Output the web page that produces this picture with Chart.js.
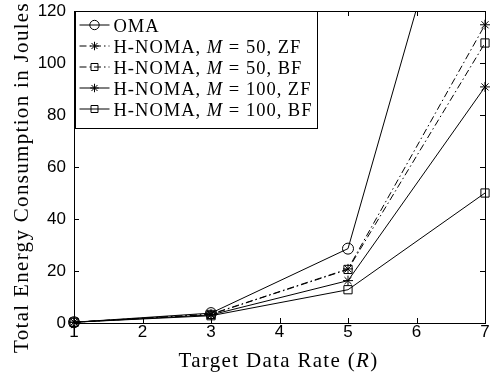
<!DOCTYPE html>
<html><head><meta charset="utf-8">
<script src="https://cdn.jsdelivr.net/npm/chart.js@4"></script>
<style>html,body{margin:0;padding:0;background:#fff}#wrap{width:493px;height:381px;position:relative}</style>
</head><body><div id="wrap"><canvas id="c" width="493" height="381"></canvas></div>
<script>
// ---- data ----
const rates = [1, 3, 5, 7];
const oma = [0.3, 3.8, 28.6, 213];
const noma50zf = [0.3, 3.4, 20.8, 114.7];
const noma50bf = [0.3, 3.3, 20.6, 107.7];
const noma100zf = [0.3, 3.1, 16.3, 90.8];
const noma100bf = [0.3, 2.8, 12.8, 50.0];
const xTicks = [1, 2, 3, 4, 5, 6, 7];
const yTicks = [0, 20, 40, 60, 80, 100, 120];
const legendLabels = [
  [["OMA", false]],
  [["H-NOMA, ", false], ["M", true], [" = 50, ZF", false]],
  [["H-NOMA, ", false], ["M", true], [" = 50, BF", false]],
  [["H-NOMA, ", false], ["M", true], [" = 100, ZF", false]],
  [["H-NOMA, ", false], ["M", true], [" = 100, BF", false]]
];
const xTitle = [["Target Data Rate (", false], ["R", true], [")", false]];
const yTitle = [["Total Energy Consumption in Joules", false]];

const SERIF = '"Liberation Serif", "DejaVu Serif", serif';
const SANS = '"Liberation Sans", Arial, sans-serif';
const dashDot = [7, 3, 1.5, 3];

function mk(label, values, style, dash, r) {
  return {
    label, data: rates.map((x, i) => ({x, y: values[i]})),
    borderColor: '#000', backgroundColor: 'rgba(0,0,0,0)', borderWidth: 1,
    borderDash: dash, pointStyle: style, pointRadius: r, pointHoverRadius: r,
    pointBorderColor: '#000', pointBackgroundColor: 'rgba(0,0,0,0)', pointBorderWidth: 1,
    tension: 0, clip: {left: 12, right: 12, top: 0, bottom: 12}
  };
}
const datasets = [
  mk('OMA', oma, 'circle', [], 5.5),
  mk('H-NOMA, M = 50, ZF', noma50zf, 'star', dashDot, 5),
  mk('H-NOMA, M = 50, BF', noma50bf, 'rect', dashDot, 5.8),
  mk('H-NOMA, M = 100, ZF', noma100zf, 'star', [], 5),
  mk('H-NOMA, M = 100, BF', noma100bf, 'rect', [], 5.8)
];

function segFont(it, size) { return (it ? 'italic ' : '') + size + 'px ' + SERIF; }
function segWidth(ctx, segs, size) {
  let w = 0, n = 0;
  ctx.letterSpacing = '0px';
  segs.forEach(([t, it]) => { ctx.font = segFont(it, size); w += ctx.measureText(t).width; n += t.length; });
  return {w, n};
}
function drawSegs(ctx, segs, x, y, size, ls, align) {
  ctx.letterSpacing = Math.max(0, ls) + 'px';
  let total = 0;
  segs.forEach(([t, it]) => { ctx.font = segFont(it, size); total += ctx.measureText(t).width; });
  let tx = align === 'center' ? x - total / 2 : x;
  ctx.textAlign = 'left';
  segs.forEach(([t, it]) => {
    ctx.font = segFont(it, size);
    ctx.fillText(t, tx, y);
    tx += ctx.measureText(t).width;
  });
  ctx.letterSpacing = '0px';
}

const framePlugin = {
  id: 'frame',
  beforeDatasetsDraw(chart) {
    const {ctx, chartArea: a, scales: {x, y}} = chart;
    ctx.save();
    ctx.strokeStyle = '#000'; ctx.lineWidth = 1;
    ctx.strokeRect(Math.round(a.left) + 0.5, Math.round(a.top) + 0.5, Math.round(a.right - a.left), Math.round(a.bottom - a.top));
    ctx.beginPath();
    const tl = 5;
    yTicks.forEach(v => {
      const py = Math.round(y.getPixelForValue(v)) + 0.5;
      ctx.moveTo(a.left, py); ctx.lineTo(a.left + tl, py);
      ctx.moveTo(a.right, py); ctx.lineTo(a.right - tl, py);
    });
    xTicks.forEach(v => {
      const px = Math.round(x.getPixelForValue(v)) + 0.5;
      ctx.moveTo(px, a.bottom); ctx.lineTo(px, a.bottom - tl);
      ctx.moveTo(px, a.top); ctx.lineTo(px, a.top + tl);
    });
    ctx.stroke();
    ctx.restore();
  },
  afterDatasetsDraw(chart) {
    const {ctx, chartArea: a} = chart;
    ctx.save();
    // axis titles
    ctx.fillStyle = '#000'; ctx.textBaseline = 'alphabetic';
    const xs = 21, xm = segWidth(ctx, xTitle, xs);
    drawSegs(ctx, xTitle, (a.left + a.right) / 2 - 1, 367, xs, (200 - xm.w) / xm.n, 'center');
    const ys = 21, ym = segWidth(ctx, yTitle, ys);
    ctx.save();
    ctx.translate(28, 177.5);
    ctx.rotate(-Math.PI / 2);
    drawSegs(ctx, yTitle, 0, 0, ys, (351 - ym.w) / ym.n, 'center');
    ctx.restore();

    // legend
    const bx = Math.round(a.left) + 1.5, by = Math.round(a.top) + 0.5, bw = 242, bh = 117;
    ctx.fillStyle = '#fff';
    ctx.fillRect(bx, by, bw, bh);
    ctx.strokeStyle = '#000'; ctx.lineWidth = 1;
    ctx.strokeRect(bx, by, bw, bh);
    const ls = 18.5;
    const lm = segWidth(ctx, legendLabels[4], ls);
    const lsp = (199 - lm.w) / lm.n;
    chart.data.datasets.forEach((ds, i) => {
      const cy = by + 13.5 + i * 21;
      ctx.save();
      ctx.setLineDash(ds.borderDash || []);
      ctx.beginPath();
      ctx.moveTo(bx + 4, cy); ctx.lineTo(bx + 34, cy);
      ctx.stroke();
      ctx.restore();
      ctx.setLineDash([]);
      ctx.fillStyle = 'rgba(0,0,0,0)';
      Chart.helpers.drawPoint(ctx, {pointStyle: ds.pointStyle, radius: ds.pointRadius * 0.85, borderWidth: 1}, bx + 19, cy);
      ctx.fillStyle = '#000'; ctx.textBaseline = 'alphabetic';
      drawSegs(ctx, legendLabels[i], bx + 38, cy + 6.5, ls, lsp, 'left');
    });
    ctx.restore();
  }
};

new Chart(document.getElementById('c'), {
  type: 'line',
  data: {datasets},
  plugins: [framePlugin],
  options: {
    responsive: false, animation: false,
    devicePixelRatio: 1,
    layout: {padding: {top: 11, right: 8, left: 0, bottom: 0}},
    plugins: {legend: {display: false}, tooltip: {enabled: false}},
    events: [],
    scales: {
      x: {
        type: 'linear', min: 1, max: 7,
        afterBuildTicks: s => { s.ticks = xTicks.map(v => ({value: v})); },
        afterFit: s => { s.height = 58; s.paddingLeft = 0; s.paddingRight = 0; },
        grid: {display: false, drawTicks: false}, border: {display: false},
        ticks: {color: '#000', font: {family: SANS, size: 17}, padding: -1, maxRotation: 0}
      },
      y: {
        type: 'linear', min: 0, max: 120,
        afterBuildTicks: s => { s.ticks = yTicks.map(v => ({value: v})); },
        afterFit: s => { s.width = 74; s.paddingTop = 0; s.paddingBottom = 0; },
        grid: {display: false, drawTicks: false}, border: {display: false},
        ticks: {color: '#000', font: {family: SANS, size: 17}, padding: 8}
      }
    }
  }
});
</script></body></html>
